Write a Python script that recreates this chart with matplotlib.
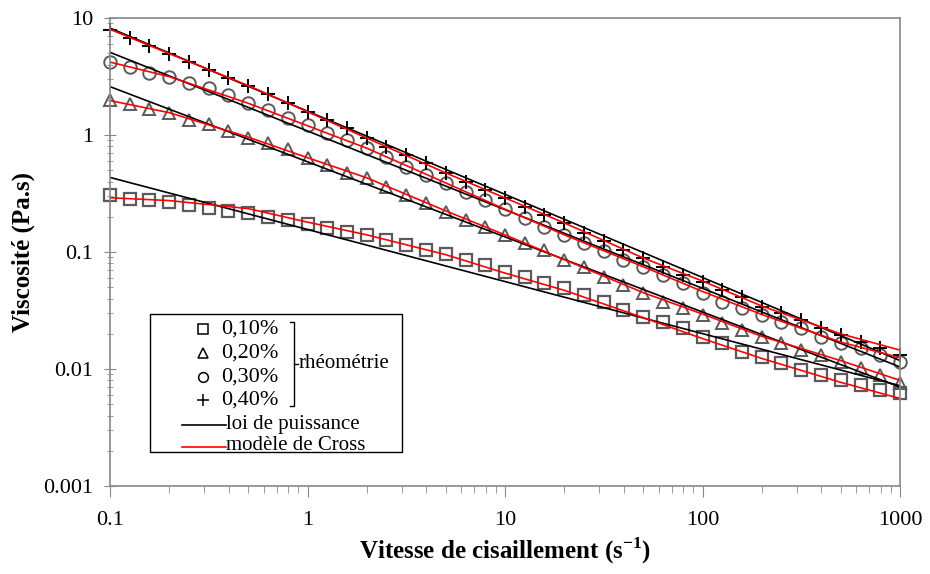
import numpy as np
import matplotlib
matplotlib.use("Agg")
import matplotlib.pyplot as plt
from matplotlib.lines import Line2D

plt.rcParams["font.family"] = ["Liberation Serif", "DejaVu Serif"]

# vitesse de cisaillement: 10 points par décade, 0.1 -> 1000 s-1
gamma = [0.1, 0.126, 0.158, 0.2, 0.251, 0.316, 0.398, 0.501, 0.631, 0.794,
         1, 1.26, 1.58, 2, 2.51, 3.16, 3.98, 5.01, 6.31, 7.94,
         10, 12.6, 15.8, 20, 25.1, 31.6, 39.8, 50.1, 63.1, 79.4,
         100, 126, 158, 200, 251, 316, 398, 501, 631, 794, 1000]

visc_010 = [0.307, 0.282, 0.278, 0.269, 0.252, 0.236, 0.225, 0.214, 0.200, 0.188,
            0.175, 0.159, 0.149, 0.140, 0.127, 0.115, 0.104, 0.0962, 0.0855, 0.0775,
            0.0679, 0.0615, 0.0540, 0.0489, 0.0429, 0.0376, 0.0319, 0.0280, 0.0254, 0.0223,
            0.0186, 0.0166, 0.0141, 0.0127, 0.0112, 0.0098, 0.0089, 0.0080, 0.0073, 0.0066, 0.0062]
visc_020 = [1.99, 1.83, 1.66, 1.53, 1.34, 1.23, 1.08, 0.948, 0.859, 0.755,
            0.640, 0.555, 0.471, 0.427, 0.362, 0.307, 0.261, 0.221, 0.188, 0.164,
            0.140, 0.119, 0.104, 0.0855, 0.0749, 0.0615, 0.0523, 0.0443, 0.0376, 0.0330,
            0.0290, 0.0246, 0.0216, 0.0189, 0.0166, 0.0145, 0.0132, 0.0115, 0.0101, 0.0089, 0.0076]
visc_030 = [4.24, 3.84, 3.37, 3.15, 2.77, 2.51, 2.20, 1.87, 1.64, 1.39,
            1.22, 1.03, 0.906, 0.769, 0.653, 0.536, 0.455, 0.386, 0.328, 0.278,
            0.232, 0.194, 0.164, 0.140, 0.119, 0.101, 0.0855, 0.0749, 0.0636, 0.0540,
            0.0450, 0.0376, 0.0330, 0.0290, 0.0254, 0.0223, 0.0189, 0.0166, 0.0150, 0.0132, 0.0115]
visc_040 = [7.89, 6.79, 5.80, 4.92, 4.23, 3.60, 3.09, 2.64, 2.24, 1.87,
            1.58, 1.34, 1.14, 0.938, 0.795, 0.675, 0.573, 0.471, 0.399, 0.339,
            0.288, 0.244, 0.207, 0.176, 0.144, 0.123, 0.104, 0.0883, 0.0749, 0.0636,
            0.0557, 0.0473, 0.0415, 0.0341, 0.0299, 0.0262, 0.0223, 0.0195, 0.0171, 0.0150, 0.0132]

# loi de puissance (droites): valeurs lues aux extrémités
gamma_pl = [0.1, 1000]
pl_010 = [0.434, 0.0072]
pl_020 = [2.59, 0.0070]
pl_030 = [5.09, 0.0104]
pl_040 = [8.2, 0.0118]

gamma_cr = [0.1, 0.2, 0.5, 1, 2, 5, 10, 20, 50, 100, 200, 500, 1000]
cr_010 = [0.291, 0.275, 0.235, 0.180, 0.140, 0.095, 0.066, 0.047, 0.0275, 0.0182, 0.0123, 0.0077, 0.0056]
cr_020 = [1.97, 1.55, 0.96, 0.64, 0.43, 0.225, 0.140, 0.086, 0.045, 0.0295, 0.0190, 0.0118, 0.0080]
cr_030 = [4.2, 3.15, 1.87, 1.20, 0.77, 0.39, 0.232, 0.140, 0.075, 0.046, 0.0292, 0.0170, 0.0125]
cr_040 = [8.0, 4.95, 2.65, 1.58, 0.94, 0.475, 0.290, 0.177, 0.089, 0.0565, 0.0345, 0.0200, 0.0145]

W, H = 930, 574
fig = plt.figure(figsize=(W / 100, H / 100), dpi=100)
ax = fig.add_axes([110 / W, 1 - 486 / H, 790 / W, 468 / H])

gris = "#5a5a5a"
ax.plot(gamma, visc_010, "s", ms=8, mfc="none", mec=gris, mew=1.6, clip_on=False)
ax.plot(gamma, visc_020, "^", ms=8.5, mfc="none", mec=gris, mew=1.4, clip_on=False)
ax.plot(gamma, visc_030, "o", ms=9, mfc="none", mec=gris, mew=1.4, clip_on=False)
ax.plot(gamma, visc_040, "+", ms=10, mec="black", mew=1.4, clip_on=False)
for pl in (pl_010, pl_020, pl_030, pl_040):
    ax.plot(gamma_pl, pl, color="black", lw=1.2)
for cr in (cr_010, cr_020, cr_030, cr_040):
    ax.plot(gamma_cr, cr, color="#ff0000", lw=1.2)

ax.set_xscale("log"); ax.set_yscale("log")
ax.set_xlim(0.1, 1000); ax.set_ylim(0.001, 10)
ax.set_xticks([0.1, 1, 10, 100, 1000]); ax.set_xticklabels(["0.1", "1", "10", "100", "1000"])
ax.set_yticks([0.001, 0.01, 0.1, 1, 10]); ax.set_yticklabels(["0.001", "0.01", "0.1", "1", "10"])
ax.tick_params(which="both", color="#888888", labelsize=16)
ax.tick_params(axis="x", which="both", direction="out", pad=10)
ax.tick_params(axis="y", which="both", direction="inout", pad=8)
ax.tick_params(which="major", length=8); ax.tick_params(which="minor", length=5, labelbottom=False, labelleft=False)
for s in ax.spines.values():
    s.set_color("#888888"); s.set_linewidth(1.2)
ax.set_xlabel("Vitesse de cisaillement (s$^{\\mathregular{-1}}$)", fontsize=18, fontweight="bold", labelpad=4)
ax.set_ylabel("Viscosité (Pa.s)", fontsize=18, fontweight="bold", labelpad=6)

# légende dessinée à la main (en pixels de la figure)
def px(x, y):
    return x / W, 1 - y / H

tf = fig.transFigure
fig.add_artist(plt.Rectangle(px(150, 452), 252 / W, 138 / H, transform=tf, fill=False, ec="black", lw=1.0))
rangees = [("s", "0,10%", 329), ("^", "0,20%", 353), ("o", "0,30%", 377), ("+", "0,40%", 400)]
for m, txt, y in rangees:
    fig.add_artist(Line2D([203 / W], [1 - y / H], marker=m, ms=7 if m != "+" else 9, mfc="none", mec="black",
                          mew=1.1, ls="none", transform=tf))
    fig.text(*px(221, y), txt, fontsize=16, va="center", ha="left")
# accolade
xb = 294
fig.add_artist(Line2D([290 / W, xb / W, xb / W, 290 / W], [1 - 322 / H, 1 - 322 / H, 1 - 406 / H, 1 - 406 / H],
                      color="black", lw=1.0, transform=tf))
fig.add_artist(Line2D([xb / W, 298 / W], [1 - 364 / H] * 2, color="black", lw=1.0, transform=tf))
fig.text(*px(299, 364), "rhéométrie", fontsize=15, va="center", ha="left")
fig.add_artist(Line2D([182 / W, 226 / W], [1 - 425 / H] * 2, color="black", lw=1.2, transform=tf))
fig.text(*px(226, 424), "loi de puissance", fontsize=15, va="center", ha="left")
fig.add_artist(Line2D([182 / W, 226 / W], [1 - 447 / H] * 2, color="#ff0000", lw=1.2, transform=tf))
fig.text(*px(226, 446), "modèle de Cross", fontsize=15, va="center", ha="left")

fig.savefig("out.png", dpi=100)
